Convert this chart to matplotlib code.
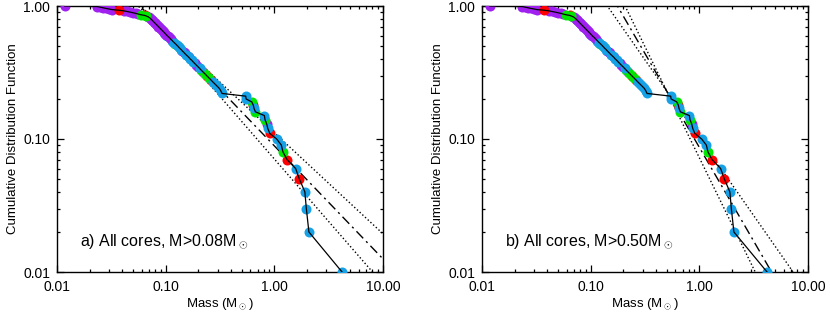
import numpy as np
import matplotlib
matplotlib.use('Agg')
import matplotlib.pyplot as plt

plt.rcParams['font.family'] = ['Liberation Sans', 'DejaVu Sans']
plt.rcParams['mathtext.fontset'] = 'custom'
plt.rcParams['mathtext.rm'] = 'Liberation Sans'

# core masses (Msun), sorted ascending, and the colour class of each core
masses = [0.0118, 0.0235, 0.0250, 0.0265, 0.0280, 0.0300, 0.0320, 0.0370, 0.0410, 0.0440,
          0.0470, 0.0500, 0.0530, 0.0560, 0.0590, 0.0640, 0.0665, 0.0690, 0.0705, 0.0720,
          0.0731, 0.0742, 0.0754, 0.0765, 0.0777, 0.0790, 0.0803, 0.0816, 0.0830, 0.0844,
          0.0858, 0.0874, 0.0889, 0.0905, 0.0921, 0.0938, 0.0956, 0.0974, 0.0993, 0.101,
          0.103, 0.105, 0.108, 0.110, 0.112, 0.115, 0.117, 0.120, 0.123, 0.126,
          0.129, 0.132, 0.135, 0.139, 0.142, 0.146, 0.150, 0.154, 0.159, 0.164,
          0.168, 0.174, 0.179, 0.185, 0.191, 0.198, 0.205, 0.212, 0.220, 0.229,
          0.238, 0.248, 0.259, 0.270, 0.283, 0.297, 0.312, 0.322, 0.330, 0.545,
          0.550, 0.620, 0.640, 0.650, 0.670, 0.810, 0.820, 0.850, 0.870, 0.910,
          1.05, 1.16, 1.20, 1.31, 1.57, 1.70, 1.91, 1.97, 2.08, 4.20]
kinds = list('PPPPPPPRPPPPPPGRGPPBPPPBPPPBPPPPBPPPPBPPBPPBPBBBGBBGBBPPPBBPBBBPPPBGPGRGRBBBBBB'
             'BBGRBGBGPBRBBGRBRBBBB')

# power-law fits: pivot mass, CDF at pivot, slopes (upper, best, lower)
fit_a = dict(m0=0.08, c0=0.76, slopes=[-0.76, -0.85, -0.94])
fit_b = dict(m0=0.50, c0=0.23, slopes=[-1.17, -1.41, -1.67])

labels = ['a) All cores, M>0.08M$_\\odot$', 'b) All cores, M>0.50M$_\\odot$']

palette = {'P': '#A020F0', 'R': '#FF0000', 'G': '#00E600', 'B': '#16A0E6'}

m = np.array(masses)
n = len(m)
cdf = np.arange(n, 0, -1) / n
kinds = np.array(kinds)
low = m < 0.12

fig = plt.figure(figsize=(8.30, 3.16), dpi=100)
ax1 = fig.add_axes([57 / 830, 44 / 316, 326 / 830, 266 / 316])
ax2 = fig.add_axes([482 / 830, 44 / 316, 326 / 830, 266 / 316])

mm = np.logspace(-2, 1, 200)
for ax, fit, lab in [(ax1, fit_a, labels[0]), (ax2, fit_b, labels[1])]:
    styles = [':', (0, (7, 3, 1.5, 3)), ':']
    for s, ls in zip(fit['slopes'], styles):
        ax.plot(mm, fit['c0'] * (mm / fit['m0']) ** s, color='black', ls=ls, lw=1.0)
    # purple over blue at low mass, blue on top above ~0.12
    for part, order in [(low, ['B', 'P', 'R', 'G']), (~low, ['P', 'R', 'G', 'B'])]:
        for k in order:
            sel = part & (kinds == k)
            ax.scatter(m[sel], cdf[sel], color=palette[k], s=52, lw=0, zorder=3)
    ax.plot(m, cdf, color='black', lw=0.9, zorder=4)
    ax.set_xscale('log')
    ax.set_yscale('log')
    ax.set_xlim(0.01, 10)
    ax.set_ylim(0.01, 1.0)
    ax.set_xticks([0.01, 0.1, 1, 10])
    ax.set_xticklabels(['0.01', '0.10', '1.00', '10.00'])
    ax.set_yticks([0.01, 0.1, 1])
    ax.set_yticklabels(['0.01', '0.10', '1.00'])
    ax.tick_params(which='both', direction='in', top=True, right=True, labelsize=10, width=0.9)
    ax.tick_params(which='major', length=5)
    ax.tick_params(which='minor', length=2.5)
    ax.tick_params(axis='x', which='major', pad=6)
    ax.tick_params(axis='y', which='major', pad=5)
    for sp in ax.spines.values():
        sp.set_linewidth(1.0)
    ax.set_xlabel('Mass (M$_\\odot$)', fontsize=9.5, labelpad=1)
    ax.set_ylabel('Cumulative Distribution Function', fontsize=9.5, labelpad=3)
    ax.text(0.07, 0.115, lab, transform=ax.transAxes, fontsize=11.5, va='center')

fig.savefig('out.png', dpi=100)
